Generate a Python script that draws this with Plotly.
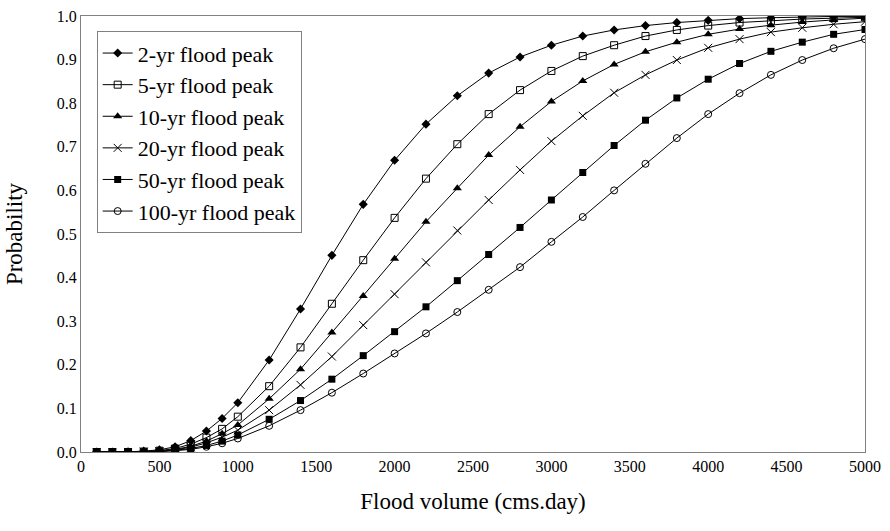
import plotly.graph_objects as go

# Flood volume (cms.day) at which each exceedance probability was evaluated
volume = [100, 200, 300, 400, 500, 600, 700, 800, 900, 1000,
          1200, 1400, 1600, 1800, 2000, 2200, 2400, 2600, 2800, 3000,
          3200, 3400, 3600, 3800, 4000, 4200, 4400, 4600, 4800, 5000]

p_2yr = [0.0, 0.0, 0.0005, 0.002, 0.005, 0.012, 0.026, 0.048, 0.077, 0.113,
         0.211, 0.328, 0.451, 0.568, 0.669, 0.752, 0.817, 0.869, 0.906, 0.933,
         0.954, 0.968, 0.978, 0.985, 0.990, 0.994, 0.996, 0.998, 0.999, 0.999]
p_5yr = [0.0, 0.0, 0.0, 0.001, 0.003, 0.008, 0.018, 0.033, 0.053, 0.081,
         0.151, 0.240, 0.340, 0.440, 0.537, 0.627, 0.706, 0.775, 0.830, 0.874,
         0.908, 0.933, 0.954, 0.968, 0.978, 0.985, 0.989, 0.993, 0.995, 0.997]
p_10yr = [0.0, 0.0, 0.0, 0.001, 0.002, 0.006, 0.013, 0.025, 0.042, 0.062,
          0.122, 0.190, 0.274, 0.358, 0.443, 0.528, 0.605, 0.681, 0.746, 0.804,
          0.851, 0.889, 0.918, 0.940, 0.958, 0.970, 0.979, 0.986, 0.991, 0.995]
p_20yr = [0.0, 0.0, 0.0, 0.001, 0.002, 0.005, 0.011, 0.021, 0.034, 0.050,
          0.096, 0.154, 0.219, 0.291, 0.362, 0.435, 0.508, 0.578, 0.647, 0.713,
          0.771, 0.824, 0.865, 0.899, 0.927, 0.947, 0.963, 0.973, 0.981, 0.987]
p_50yr = [0.0, 0.0, 0.0, 0.0, 0.001, 0.004, 0.008, 0.015, 0.025, 0.039,
          0.075, 0.118, 0.167, 0.221, 0.276, 0.333, 0.393, 0.453, 0.515, 0.578,
          0.641, 0.703, 0.761, 0.812, 0.855, 0.891, 0.919, 0.940, 0.958, 0.969]
p_100yr = [0.0, 0.0, 0.0, 0.0, 0.001, 0.003, 0.006, 0.012, 0.020, 0.031,
           0.060, 0.096, 0.136, 0.180, 0.226, 0.272, 0.321, 0.372, 0.424, 0.482,
           0.539, 0.600, 0.661, 0.720, 0.775, 0.823, 0.865, 0.899, 0.926, 0.947]

series_names = ["2-yr flood peak", "5-yr flood peak", "10-yr flood peak",
                "20-yr flood peak", "50-yr flood peak", "100-yr flood peak"]
series_values = [p_2yr, p_5yr, p_10yr, p_20yr, p_50yr, p_100yr]

x_ticks = [0, 500, 1000, 1500, 2000, 2500, 3000, 3500, 4000, 4500, 5000]
y_ticks = [0.0, 0.1, 0.2, 0.3, 0.4, 0.5, 0.6, 0.7, 0.8, 0.9, 1.0]

marker_styles = [
    dict(symbol="diamond", size=7, color="black"),
    dict(symbol="square-open", size=7, color="black", line=dict(width=1)),
    dict(symbol="triangle-up", size=8, color="black"),
    dict(symbol="x-thin-open", size=8, color="black", line=dict(width=1, color="black")),
    dict(symbol="square", size=7, color="black"),
    dict(symbol="circle-open", size=7, color="black", line=dict(width=1)),
]

FONT = "Liberation Serif, Times New Roman, serif"

fig = go.Figure()
for i, (name, vals, mk) in enumerate(zip(series_names, series_values, marker_styles)):
    fig.add_trace(go.Scatter(
        x=volume, y=vals, name=name, mode="lines+markers",
        line=dict(color="black", width=1),
        marker=mk, legendgroup=f"g{i}",
    ))

fig.update_layout(
    width=890, height=531,
    margin=dict(l=81, r=25, t=16, b=79, autoexpand=False),
    paper_bgcolor="white", plot_bgcolor="white",
    font=dict(family=FONT, size=18, color="black"),
    showlegend=True,
    legend=dict(
        x=0.02, y=0.965, xanchor="left", yanchor="top",
        bgcolor="white", bordercolor="#808080", borderwidth=1,
        font=dict(family=FONT, size=22, color="black"),
        tracegroupgap=0, itemwidth=30,
    ),
)
fig.update_xaxes(
    range=[0, 5000], tickvals=x_ticks, ticktext=[str(v) for v in x_ticks],
    showgrid=False, zeroline=False, showline=True, linecolor="#808080",
    linewidth=1, mirror=True, ticks="", automargin=False,
    tickfont=dict(family=FONT, size=16),
    title=dict(text="Flood volume (cms.day)", font=dict(family=FONT, size=23), standoff=18),
)
fig.update_yaxes(
    range=[0, 1.0], tickvals=y_ticks, ticktext=[f"{v:.1f}" for v in y_ticks],
    showgrid=False, zeroline=False, showline=True, linecolor="#808080",
    linewidth=1, mirror=True, ticks="", automargin=False,
    tickfont=dict(family=FONT, size=16),
    title=dict(text="Probability", font=dict(family=FONT, size=23), standoff=27),
)

fig.write_html("out.html")
